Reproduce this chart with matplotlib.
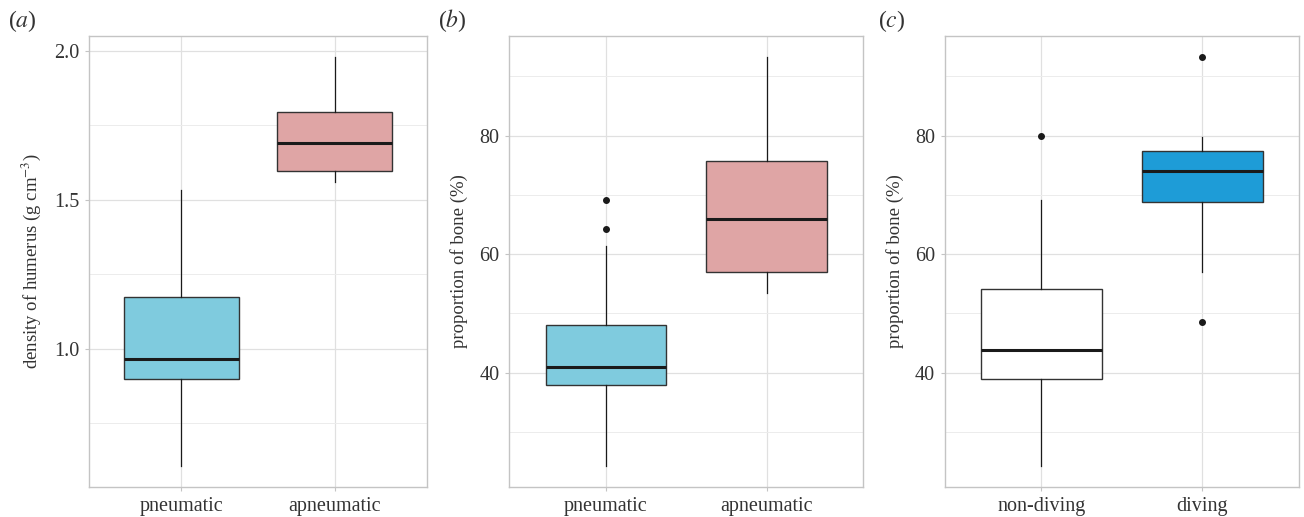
import matplotlib.pyplot as plt
from matplotlib.ticker import MultipleLocator

plt.rcParams['font.family'] = ['Liberation Serif', 'DejaVu Serif']
plt.rcParams['mathtext.fontset'] = 'stix'

# panel (a): humerus density
groups_ab = ['pneumatic', 'apneumatic']
dens_q1 = [0.898, 1.596]
dens_med = [0.966, 1.692]
dens_q3 = [1.173, 1.794]
dens_lo = [0.604, 1.560]
dens_hi = [1.533, 1.979]
dens_out = [[], []]

# panel (b): proportion of bone by pneumaticity
bone_q1 = [37.9, 56.9]
bone_med = [40.9, 65.9]
bone_q3 = [48.0, 75.7]
bone_lo = [24.2, 53.5]
bone_hi = [61.35, 93.2]
bone_out = [[69.2, 64.2], []]

# panel (c): proportion of bone by diving
groups_c = ['non-diving', 'diving']
dive_q1 = [39.0, 68.8]
dive_med = [43.9, 74.1]
dive_q3 = [54.1, 77.4]
dive_lo = [24.2, 56.9]
dive_hi = [69.2, 79.7]
dive_out = [[80.0], [93.2, 48.5]]

col_ab = ['#7fcbde', '#dfa5a5']
col_c = ['#ffffff', '#1e9cd7']


def stats(q1, med, q3, lo, hi, out):
    return [dict(q1=q1[i], med=med[i], q3=q3[i], whislo=lo[i], whishi=hi[i], fliers=out[i])
            for i in range(len(q1))]


def panel(ax, st, labels, colors, ylab):
    b = ax.bxp(st, positions=[1, 2], widths=0.75, patch_artist=True, showcaps=False,
               boxprops=dict(edgecolor='#333333', linewidth=1.0),
               medianprops=dict(color='#1a1a1a', linewidth=2.2),
               whiskerprops=dict(color='#1a1a1a', linewidth=0.9),
               flierprops=dict(marker='o', markerfacecolor='#1a1a1a', markeredgecolor='#1a1a1a',
                               markersize=4))
    for p, c in zip(b['boxes'], colors):
        p.set_facecolor(c)
        p.set_zorder(3)
    for k in ['medians', 'whiskers', 'fliers']:
        for l in b[k]:
            l.set_zorder(4)
    ax.set_xlim(0.4, 2.6)
    ax.set_xticks([1, 2])
    ax.set_xticklabels(labels)
    ax.grid(True, which='major', color='#e0e0e0', linewidth=0.9)
    ax.grid(True, which='minor', axis='y', color='#ececec', linewidth=0.7)
    ax.set_axisbelow(True)
    for s in ax.spines.values():
        s.set_color('#c4c4c4')
        s.set_linewidth(1.0)
    ax.tick_params(which='major', colors='#c4c4c4', labelcolor='#333333', labelsize=14.5,
                   length=3, pad=4)
    ax.tick_params(which='minor', length=0)
    ax.set_ylabel(ylab, fontsize=13.5, color='#333333', labelpad=8)


fig = plt.figure(figsize=(13.04, 5.17), dpi=100)
ax1 = fig.add_axes([0.0683, 0.058, 0.2592, 0.8723])
ax2 = fig.add_axes([0.3906, 0.058, 0.2715, 0.8723])
ax3 = fig.add_axes([0.7245, 0.058, 0.2717, 0.8723])

panel(ax1, stats(dens_q1, dens_med, dens_q3, dens_lo, dens_hi, dens_out), groups_ab, col_ab,
      'density of humerus (g cm$^{-3}$)')
ax1.set_ylim(0.535, 2.05)
ax1.yaxis.set_major_locator(MultipleLocator(0.5))
ax1.yaxis.set_minor_locator(MultipleLocator(0.25))
ax1.yaxis.set_major_formatter(plt.FormatStrFormatter('%.1f'))

panel(ax2, stats(bone_q1, bone_med, bone_q3, bone_lo, bone_hi, bone_out), groups_ab, col_ab,
      'proportion of bone (%)')
panel(ax3, stats(dive_q1, dive_med, dive_q3, dive_lo, dive_hi, dive_out), groups_c, col_c,
      'proportion of bone (%)')
for ax in (ax2, ax3):
    ax.set_ylim(20.7, 96.8)
    ax.yaxis.set_major_locator(MultipleLocator(20))
    ax.yaxis.set_minor_locator(MultipleLocator(10))

for x, tag in zip([8, 438, 878], ['($a$)', '($b$)', '($c$)']):
    fig.text(x / 1304, 1 - 21 / 517, tag, fontsize=17, color='#333333', ha='left', va='center')

fig.savefig('out.png', dpi=100)
